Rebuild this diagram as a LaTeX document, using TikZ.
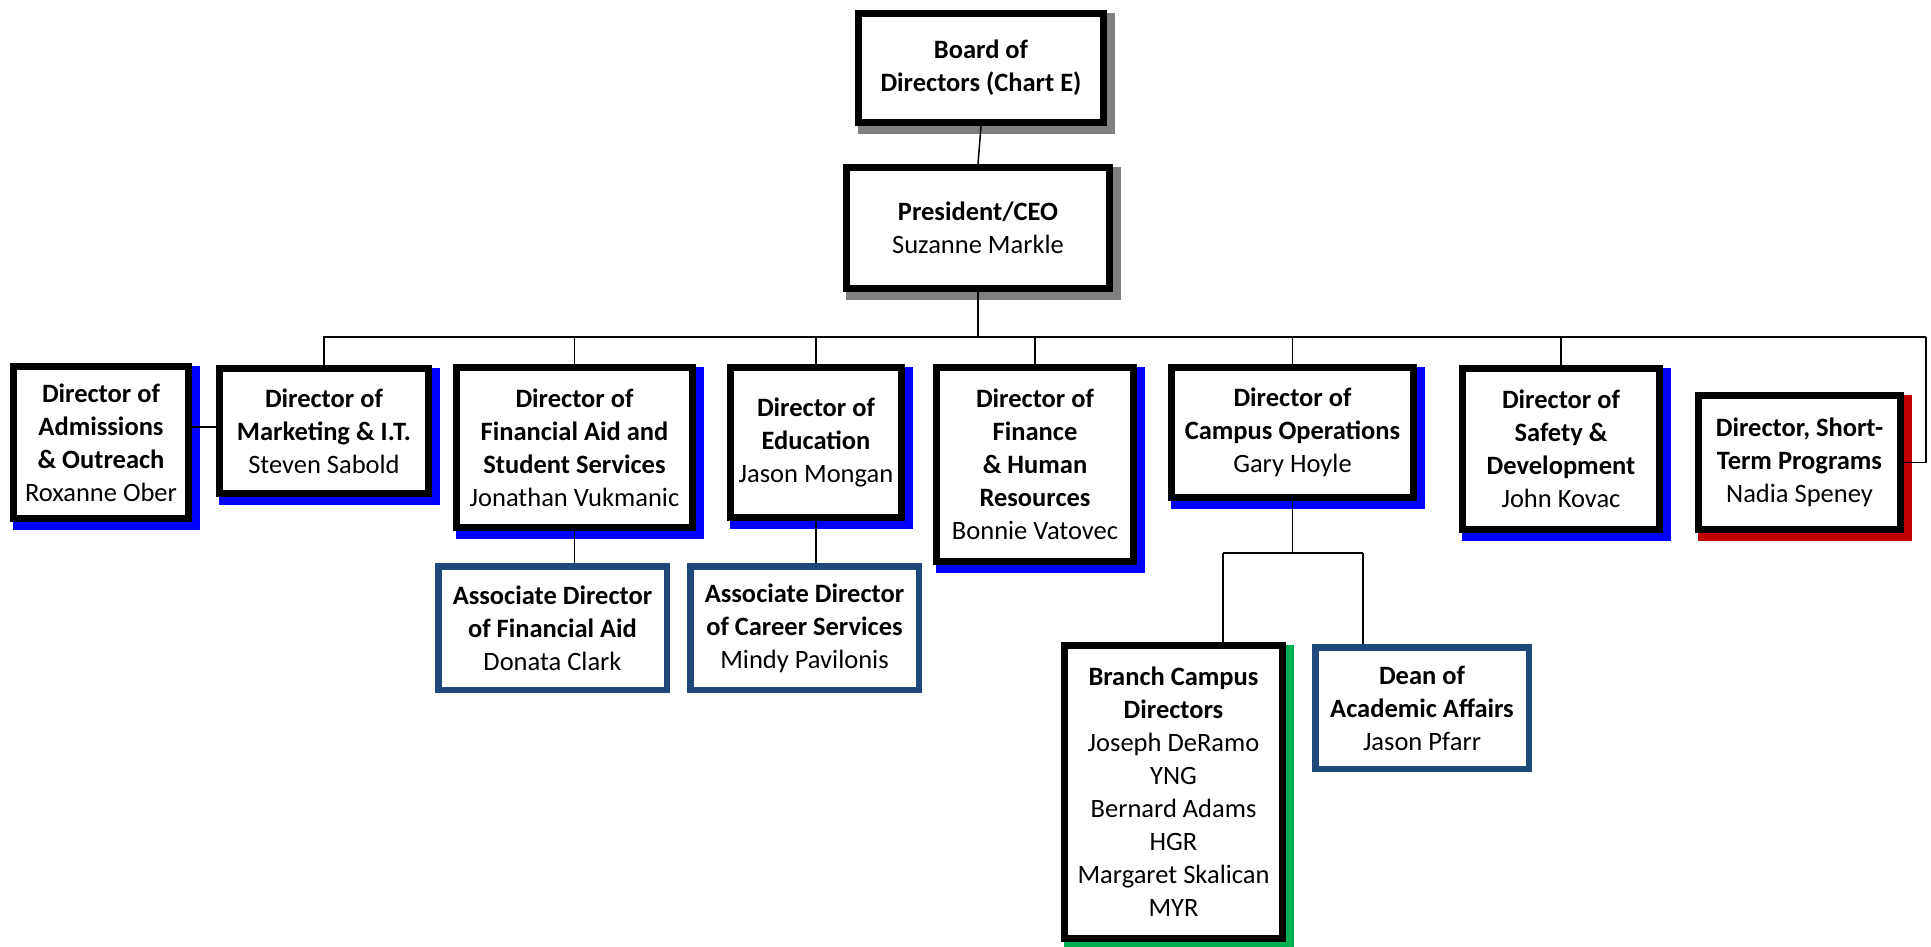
\documentclass[tikz,border=0pt]{standalone}
\usepackage{fontspec}
\setmainfont{Carlito}
\usetikzlibrary{backgrounds}
\definecolor{shblue}{HTML}{0000FF}
\definecolor{shgray}{HTML}{808080}
\definecolor{shred}{HTML}{C00000}
\definecolor{shgreen}{HTML}{00B050}
\definecolor{navy}{HTML}{1F497D}
\begin{document}
\begin{tikzpicture}[x=1pt,y=-1pt,
  mainbox/.style={draw=black, line width=7pt, fill=white, align=center, inner sep=0pt,
    font=\fontsize{26.5}{33}\selectfont},
  subbox/.style={draw=navy, line width=6.5pt, fill=white, align=center, inner sep=0pt,
    font=\fontsize{26.5}{33}\selectfont},
  conn/.style={draw=black, line width=1.5pt}]
\useasboundingbox (0,0) rectangle (1931,946);

\node[mainbox, minimum width=245pt, minimum height=109pt] (board) at (981,68)
  {\bfseries Board of\\\bfseries Directors (Chart E)};
\node[mainbox, minimum width=263pt, minimum height=121pt] (pres) at (978,228)
  {\bfseries President/CEO\\Suzanne Markle};

\node[mainbox, minimum width=175pt, minimum height=152pt] (adm) at (101,442.5)
  {\bfseries Director of\\\bfseries Admissions\\\bfseries \& Outreach\\Roxanne Ober};
\node[mainbox, minimum width=209pt, minimum height=125pt] (mkt) at (324,431)
  {\bfseries Director of\\\bfseries Marketing \& I.T.\\Steven Sabold};
\node[mainbox, minimum width=236pt, minimum height=160pt] (finaid) at (574.5,447.5)
  {\bfseries Director of\\\bfseries Financial Aid and\\\bfseries Student Services\\Jonathan Vukmanic};
\node[mainbox, minimum width=171pt, minimum height=150pt] (edu) at (816,442.5)
  {\bfseries Director of\\\bfseries Education\\Jason Mongan};
\node[mainbox, minimum width=197pt, minimum height=194pt] (finance) at (1035,464.5)
  {\bfseries Director of\\\bfseries Finance\\\bfseries \& Human\\\bfseries Resources\\Bonnie Vatovec};
\node[mainbox, minimum width=242pt, minimum height=130pt] (campus) at (1292.5,432.5)
  {\bfseries Director of\\\bfseries Campus Operations\\Gary Hoyle};
\node[mainbox, minimum width=197pt, minimum height=161pt] (safety) at (1561,449)
  {\bfseries Director of\\\bfseries Safety \&\\\bfseries Development\\John Kovac};
\node[mainbox, minimum width=202pt, minimum height=134pt] (short) at (1799.5,462.5)
  {\bfseries Director, Short-\\\bfseries Term Programs\\Nadia Speney};

\node[subbox, minimum width=228.5pt, minimum height=123.5pt] (afa) at (552.5,628)
  {\bfseries Associate Director\\\bfseries of Financial Aid\\Donata Clark};
\node[subbox, minimum width=228.5pt, minimum height=123.5pt] (acs) at (804.5,628)
  {\bfseries Associate Director\\\bfseries of Career Services\\Mindy Pavilonis};

\node[mainbox, minimum width=218pt, minimum height=293pt] (branch) at (1173.5,792)
  {\bfseries Branch Campus\\\bfseries Directors\\Joseph DeRamo\\YNG\\Bernard Adams\\HGR\\Margaret Skalican\\MYR};
\node[subbox, minimum width=213.5pt, minimum height=121.5pt] (dean) at (1422,708)
  {\bfseries Dean of\\\bfseries Academic Affairs\\Jason Pfarr};

\begin{scope}[on background layer]
  \foreach \n/\c in {board/shgray, pres/shgray, adm/shblue, mkt/shblue, finaid/shblue,
      edu/shblue, finance/shblue, campus/shblue, safety/shblue, short/shred, branch/shgreen}
    \fill[\c] ([shift={(3,3)}]\n.north west) rectangle ([shift={(8,8)}]\n.south east);

  \coordinate (busL) at (323,337);
  \coordinate (busR) at (1926,337);
  \coordinate (jl) at (1223,553);
  \coordinate (jr) at (1363,553);

  \draw[conn] (board.south) -- (pres.north);
  \draw[conn] (pres.south) -- (pres.south |- busL);
  \draw[conn] (busL) -- (busR);
  \foreach \n in {mkt, finaid, edu, finance, campus, safety}
    \draw[conn] (\n.north) -- (\n.north |- busL);
  \draw[conn] (busR) |- (short.east);
  \draw[conn] ([yshift=4pt]mkt.west) -- ([yshift=4pt]mkt.west -| adm.east);
  \draw[conn] (finaid.south) -- (finaid.south |- afa.north);
  \draw[conn] (edu.south) -- (edu.south |- acs.north);
  \draw[conn] (campus.south) -- (campus.south |- jl);
  \draw[conn] (jl) -- (jr);
  \draw[conn] (jl) -- (jl |- branch.north);
  \draw[conn] (jr) -- (jr |- dean.north);
\end{scope}
\end{tikzpicture}
\end{document}
